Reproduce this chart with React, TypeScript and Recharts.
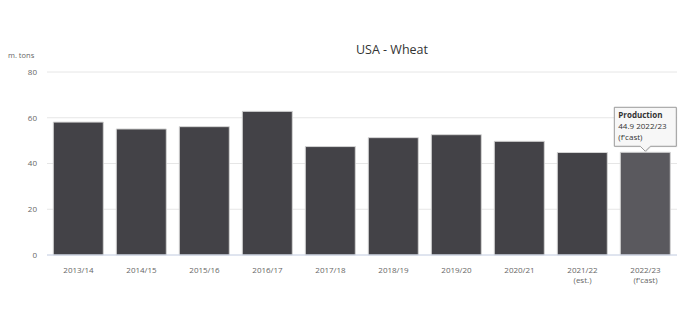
import React from "react";
import {
  BarChart,
  Bar,
  XAxis,
  YAxis,
  CartesianGrid,
  Cell,
  LabelList,
} from "recharts";

const seasons = [
  "2013/14",
  "2014/15",
  "2015/16",
  "2016/17",
  "2017/18",
  "2018/19",
  "2019/20",
  "2020/21",
  "2021/22",
  "2022/23",
];
const notes = ["", "", "", "", "", "", "", "", "(est.)", "(f'cast)"];
const production = [58.1, 55.1, 56.1, 62.8, 47.4, 51.3, 52.6, 49.7, 44.8, 44.9];
const yTicks = [0, 20, 40, 60, 80];
const highlighted = 9;

const FONT = "'Open Sans', 'DejaVu Sans', sans-serif";

const data = seasons.map((season, i) => ({
  season,
  note: notes[i],
  production: production[i],
}));

function SeasonTick(props: any) {
  const { x, y, payload, index } = props;
  const note = notes[index];
  return (
    <g transform={`translate(${x},${y})`}>
      <text textAnchor="middle" fill="#666" fontSize={8} fontFamily={FONT}>
        <tspan x={0} dy={10}>{payload.value}</tspan>
        {note ? (
          <tspan x={0} dy={10}>{note}</tspan>
        ) : null}
      </text>
    </g>
  );
}

function Callout(props: any) {
  const { x, y, width, index } = props;
  if (index !== highlighted) return null;
  const cx = x + width / 2;
  const tipY = y - 1;
  const w = 62;
  const h = 39;
  const left = cx - 31;
  const top = tipY - 5 - h;
  const path = `M${left},${top} h${w} v${h} h${-(w / 2 - 5)} l-5,5 l-5,-5 h${-(w / 2 - 5)} z`;
  return (
    <g>
      <path d={path} fill="#000" opacity={0.08} transform="translate(1,1)" />
      <path d={path} fill="#f7f7f7" stroke="#999" strokeWidth={1} />
      <text fontFamily={FONT} fontSize={8} fill="#333">
        <tspan x={left + 4} y={top + 11} fontWeight="bold">Production</tspan>
        <tspan x={left + 4} y={top + 22}>
          {production[index]} {seasons[index]}
        </tspan>
        <tspan x={left + 4} y={top + 33}>{notes[index]}</tspan>
      </text>
    </g>
  );
}

export default function App() {
  return (
    <div
      style={{
        position: "absolute",
        left: 0,
        top: 0,
        width: 690,
        height: 317,
        background: "#fff",
        fontFamily: FONT,
      }}
    >
      <div
        style={{
          position: "absolute",
          left: 292,
          width: 200,
          top: 41,
          textAlign: "center",
          fontSize: 12.5,
          color: "#333",
        }}
      >
        USA - Wheat
      </div>
      <div
        style={{
          position: "absolute",
          left: 8,
          top: 50,
          fontSize: 7.5,
          color: "#666",
        }}
      >
        m. tons
      </div>
      <BarChart
        width={690}
        height={317}
        data={data}
        margin={{ top: 72, right: 13, bottom: 32, left: 0 }}
        barCategoryGap="10%"
      >
        <CartesianGrid vertical={false} stroke="#e6e6e6" />
        <XAxis
          dataKey="season"
          interval={0}
          height={30}
          tick={<SeasonTick />}
          tickLine={false}
          axisLine={{ stroke: "#ccd6eb" }}
        />
        <YAxis
          width={47}
          domain={[0, 80]}
          ticks={yTicks}
          tickSize={0}
          tickMargin={10}
          axisLine={false}
          tick={{ fill: "#666", fontSize: 8, fontFamily: FONT }}
        />
        <Bar
          dataKey="production"
          isAnimationActive={false}
          stroke="#d4d4d4"
          strokeWidth={1}
        >
          {data.map((d, i) => (
            <Cell key={d.season} fill={i === highlighted ? "#5a595e" : "#434247"} />
          ))}
          <LabelList dataKey="production" content={<Callout />} />
        </Bar>
      </BarChart>
    </div>
  );
}
